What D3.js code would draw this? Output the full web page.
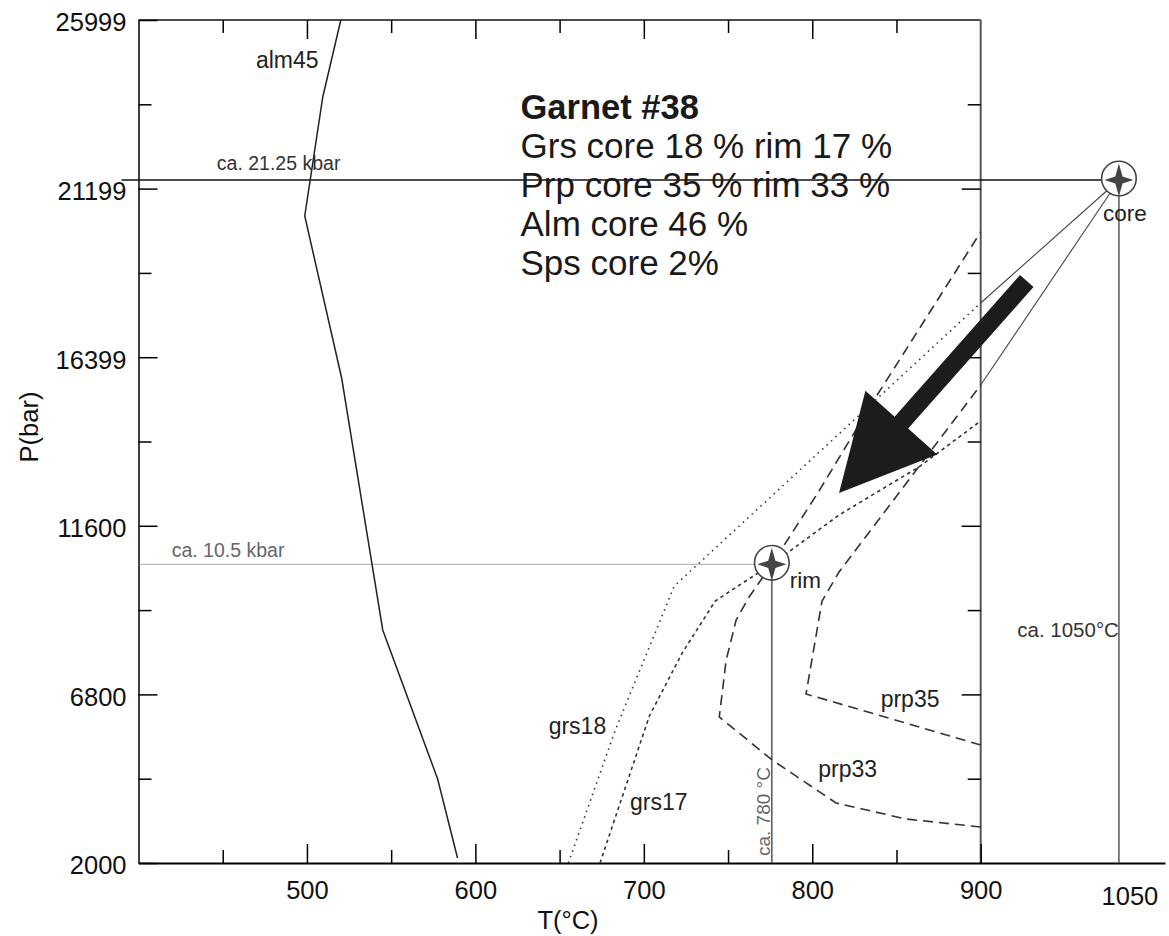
<!DOCTYPE html>
<html>
<head>
<meta charset="utf-8">
<script src="https://cdnjs.cloudflare.com/ajax/libs/d3/7.8.5/d3.min.js"></script>
<style>
    body { margin: 0; background: #fff; }
    svg { display: block; font-family: "Liberation Sans", Arial, sans-serif; }
</style>
</head>
<body>
<script>
// isopleths, each point is [T (°C), P (bar)]
let alm45 = [[520.1, 25999], [509.4, 23807], [498.7, 20419], [520.6, 15807], [545.0, 8634], [577.6, 4392], [589.4, 2143]]
let grs18 = [[655.2, 2000], [683.1, 5787], [718.1, 9886], [900, 17943]]
let grs17 = [[674.0, 2000], [703.3, 6185], [722.8, 7979], [742.4, 9459], [759.6, 10000], [776, 10504], [815.9, 11907], [863.3, 13274], [900, 14583]]
let prp33 = [[900, 3025], [855.6, 3253], [814.1, 3709], [776.2, 4933], [744.8, 6157], [748.9, 7779], [754.8, 8918], [762.5, 9573], [776, 10504], [802.9, 12505], [837.8, 15267], [900, 19964]]
let prp35 = [[900, 5360], [796.3, 6812], [805.8, 9459], [815.9, 10285], [900, 15608]]

let core = [1050, 21444]
let rim = [776, 10504]
let arrowFrom = [950, 18569]
let arrowTo = [815.9, 12534]

// axis ticks
let xMajor = [500, 600, 700, 800, 900]
let xMinor = [450, 550, 650, 750, 850]
let yMajor = [2000, 6800, 11600, 16399, 21199, 25999]
let yMajorLabels = ['2000', '6800', '11600', '16399', '21199', '25999']
let yMinor = [4400, 9200, 14000, 18799, 23599]

let title = 'Garnet #38'
let infoLines = ['Grs core 18 % rim 17 %', 'Prp core 35 % rim 33 %', 'Alm core 46 %', 'Sps core 2%']

// curve labels [text, T, P]
let curveLabels = [
    ['alm45', 469.7, 24624],
    ['grs18', 643.5, 5684],
    ['grs17', 691.8, 3509],
    ['prp35', 840.6, 6453],
    ['prp33', 803.6, 4454]
]

var width = 1169, height = 936

var svg = d3.select("body").append("svg")
    .attr("width", width)
    .attr("height", height)

svg.append("rect").attr("width", width).attr("height", height).attr("fill", "#fff")

// the T axis is broken after 900, the 1050 line sits on a squeezed part
var x = d3.scaleLinear()
    .domain([400, 900, 1100])
    .range([138.5, 980.7, 1165])

var y = d3.scaleLinear()
    .domain([2000, 25999])
    .range([863, 20])

var line = d3.line()
    .x(d => x(d[0]))
    .y(d => y(d[1]))

// frame: top line and the 900 line
svg.append("line")
    .attr("x1", x(400)).attr("x2", x(900))
    .attr("y1", y(25999)).attr("y2", y(25999))
    .attr("stroke", "#111").attr("stroke-width", 1.5)

svg.append("line")
    .attr("x1", x(900)).attr("x2", x(900))
    .attr("y1", y(25999)).attr("y2", y(2000))
    .attr("stroke", "#555").attr("stroke-width", 2)

// bottom axis
var xAxis = svg.append("g")
    .attr("transform", "translate(0," + y(2000) + ")")
    .call(d3.axisBottom(x).tickValues(xMajor).tickSize(-19).tickSizeOuter(0).tickPadding(18))
xAxis.select(".domain").attr("stroke-width", 2)
xAxis.selectAll(".tick line").attr("stroke-width", 1.5)
xAxis.selectAll("text").attr("font-size", 25.5).attr("fill", "#111").attr("font-family", null)

svg.append("g")
    .attr("transform", "translate(0," + y(2000) + ")")
    .call(d3.axisBottom(x).tickValues(xMinor).tickSize(-13).tickFormat(""))
    .call(g => g.select(".domain").remove())
    .selectAll(".tick line").attr("stroke-width", 1.5)

// top ticks
svg.append("g")
    .attr("transform", "translate(0," + y(25999) + ")")
    .call(d3.axisTop(x).tickValues(xMajor.slice(0, 4)).tickSize(-19).tickFormat(""))
    .call(g => g.select(".domain").remove())
    .selectAll(".tick line").attr("stroke-width", 1.5)
svg.append("g")
    .attr("transform", "translate(0," + y(25999) + ")")
    .call(d3.axisTop(x).tickValues(xMinor).tickSize(-13).tickFormat(""))
    .call(g => g.select(".domain").remove())
    .selectAll(".tick line").attr("stroke-width", 1.5)

// the 1050 label sits a bit lower than the others
svg.append("text")
    .attr("x", x(1050) + 11)
    .attr("y", y(2000) + 42)
    .attr("text-anchor", "middle")
    .attr("font-size", 25.5)
    .attr("fill", "#111")
    .text("1050")

// left axis
var yAxis = svg.append("g")
    .attr("transform", "translate(" + x(400) + ",0)")
    .call(d3.axisLeft(y).tickValues(yMajor).tickSize(-19).tickSizeOuter(0).tickPadding(12)
        .tickFormat((d, i) => yMajorLabels[i]))
yAxis.select(".domain").attr("stroke-width", 1.5)
yAxis.selectAll(".tick line").attr("stroke-width", 1.5)
yAxis.selectAll("text").attr("font-size", 25.5).attr("fill", "#111").attr("font-family", null).attr("dy", "0.43em")

svg.append("g")
    .attr("transform", "translate(" + x(400) + ",0)")
    .call(d3.axisLeft(y).tickValues(yMinor).tickSize(-13).tickFormat(""))
    .call(g => g.select(".domain").remove())
    .selectAll(".tick line").attr("stroke-width", 1.5)

// right ticks on the 900 line, pointing in
svg.append("g")
    .attr("transform", "translate(" + x(900) + ",0)")
    .call(d3.axisRight(y).tickValues(yMajor.slice(1, 5)).tickSize(-19).tickFormat(""))
    .call(g => g.select(".domain").remove())
    .selectAll(".tick line").attr("stroke-width", 1.5)
svg.append("g")
    .attr("transform", "translate(" + x(900) + ",0)")
    .call(d3.axisRight(y).tickValues(yMinor).tickSize(-13).tickFormat(""))
    .call(g => g.select(".domain").remove())
    .selectAll(".tick line").attr("stroke-width", 1.5)

// axis titles
svg.append("text")
    .attr("x", 568).attr("y", 929)
    .attr("text-anchor", "middle")
    .attr("font-size", 25.5).attr("fill", "#111")
    .text("T(°C)")

svg.append("text")
    .attr("transform", "translate(38," + 427 + ") rotate(-90)")
    .attr("text-anchor", "middle")
    .attr("font-size", 25.5).attr("fill", "#111")
    .text("P(bar)")

// guide lines through core and rim
svg.append("line")
    .attr("x1", x(400) - 17).attr("x2", x(core[0]))
    .attr("y1", y(core[1])).attr("y2", y(core[1]))
    .attr("stroke", "#111").attr("stroke-width", 1.3)
svg.append("line")
    .attr("x1", x(core[0])).attr("x2", x(core[0]))
    .attr("y1", y(core[1])).attr("y2", y(2000))
    .attr("stroke", "#555").attr("stroke-width", 1.5)

svg.append("line")
    .attr("x1", x(400)).attr("x2", x(rim[0]))
    .attr("y1", y(rim[1])).attr("y2", y(rim[1]))
    .attr("stroke", "#777").attr("stroke-width", 1.2).attr("stroke-dasharray", "1,1")
svg.append("line")
    .attr("x1", x(rim[0])).attr("x2", x(rim[0]))
    .attr("y1", y(rim[1])).attr("y2", y(2000))
    .attr("stroke", "#555").attr("stroke-width", 1.5)

// thin lines from core back to the grs18 and prp35 ends
;[grs18, prp35].forEach(function (c) {
    let end = c[c.length - 1]
    svg.append("line")
        .attr("x1", x(core[0])).attr("y1", y(core[1]))
        .attr("x2", x(end[0])).attr("y2", y(end[1]))
        .attr("stroke", "#444").attr("stroke-width", 1.1)
})

// isopleths
svg.append("path").datum(alm45).attr("d", line)
    .attr("fill", "none").attr("stroke", "#222").attr("stroke-width", 1.5)
svg.append("path").datum(grs18).attr("d", line)
    .attr("fill", "none").attr("stroke", "#333").attr("stroke-width", 1.6)
    .attr("stroke-dasharray", "1.5,4.5")
svg.append("path").datum(grs17).attr("d", line)
    .attr("fill", "none").attr("stroke", "#333").attr("stroke-width", 1.6)
    .attr("stroke-dasharray", "3.5,3.5")
svg.append("path").datum(prp33).attr("d", line)
    .attr("fill", "none").attr("stroke", "#333").attr("stroke-width", 1.6)
    .attr("stroke-dasharray", "10,6")
svg.append("path").datum(prp35).attr("d", line)
    .attr("fill", "none").attr("stroke", "#333").attr("stroke-width", 1.6)
    .attr("stroke-dasharray", "10,6")

// big arrow core -> rim
var p0 = [x(arrowFrom[0]), y(arrowFrom[1])]
var p1 = [x(arrowTo[0]), y(arrowTo[1])]
var len = Math.hypot(p1[0] - p0[0], p1[1] - p0[1])
var ux = (p1[0] - p0[0]) / len, uy = (p1[1] - p0[1]) / len
var nx = -uy, ny = ux
var headLen = 94, headW = 48, shaftW = 9
var bx = p1[0] - ux * headLen, by = p1[1] - uy * headLen
var arrowPts = [
    [p0[0] + nx * shaftW, p0[1] + ny * shaftW],
    [bx + nx * shaftW, by + ny * shaftW],
    [bx + nx * headW, by + ny * headW],
    p1,
    [bx - nx * headW, by - ny * headW],
    [bx - nx * shaftW, by - ny * shaftW],
    [p0[0] - nx * shaftW, p0[1] - ny * shaftW]
]
svg.append("path")
    .attr("d", "M" + arrowPts.join("L") + "Z")
    .attr("fill", "#1c1c1c")

// star markers in circles
function star(cx, cy) {
    let rv = 16.5, rh = 14.5, ri = 3.6
    let pts = [[0, -rv], [ri, -ri], [rh, 0], [ri, ri], [0, rv], [-ri, ri], [-rh, 0], [-ri, -ri]]
    return "M" + pts.map(p => [cx + p[0], cy + p[1]]).join("L") + "Z"
}
;[core, rim].forEach(function (pt) {
    let cx = x(pt[0]), cy = y(pt[1])
    svg.append("circle")
        .attr("cx", cx).attr("cy", cy - 1.5).attr("r", 17.3)
        .attr("fill", "#fff").attr("stroke", "#444").attr("stroke-width", 1.6)
    svg.append("path").attr("d", star(cx, cy)).attr("fill", "#444")
})

svg.append("text")
    .attr("x", x(core[0]) - 16).attr("y", y(core[1]) + 41)
    .attr("font-size", 22.5).attr("fill", "#222")
    .text("core")
svg.append("text")
    .attr("x", x(rim[0]) + 18).attr("y", y(rim[1]) + 24)
    .attr("font-size", 22.5).attr("fill", "#222")
    .text("rim")

// curve labels
svg.selectAll(".clabel")
    .data(curveLabels)
    .enter()
    .append("text")
    .attr("class", "clabel")
    .attr("x", d => x(d[1]))
    .attr("y", d => y(d[2]))
    .attr("font-size", 23)
    .attr("fill", "#222")
    .text(d => d[0])

// annotations
svg.append("text")
    .attr("x", x(446.5)).attr("y", y(core[1]) - 10)
    .attr("font-size", 19.5).attr("fill", "#333")
    .text("ca. 21.25 kbar")
svg.append("text")
    .attr("x", x(419.7)).attr("y", y(rim[1]) - 7)
    .attr("font-size", 19.5).attr("fill", "#666")
    .text("ca. 10.5 kbar")
svg.append("text")
    .attr("transform", "translate(" + (x(rim[0]) - 2) + "," + (y(2000) - 7) + ") rotate(-90)")
    .attr("font-size", 19).attr("fill", "#666")
    .text("ca. 780 °C")
svg.append("text")
    .attr("x", x(core[0])).attr("y", y(8443))
    .attr("text-anchor", "end")
    .attr("font-size", 20.5).attr("fill", "#333")
    .text("ca. 1050°C")

// info box text
var info = svg.append("text")
    .attr("x", x(626.8)).attr("y", 119)
    .attr("fill", "#1a1a1a")
info.append("tspan")
    .attr("font-weight", "bold").attr("font-size", 34.5)
    .text(title)
info.selectAll(".line")
    .data(infoLines)
    .enter()
    .append("tspan")
    .attr("class", "line")
    .attr("x", x(626.8))
    .attr("dy", 39)
    .attr("font-size", 35)
    .text(d => d)
</script>
</body>
</html>
